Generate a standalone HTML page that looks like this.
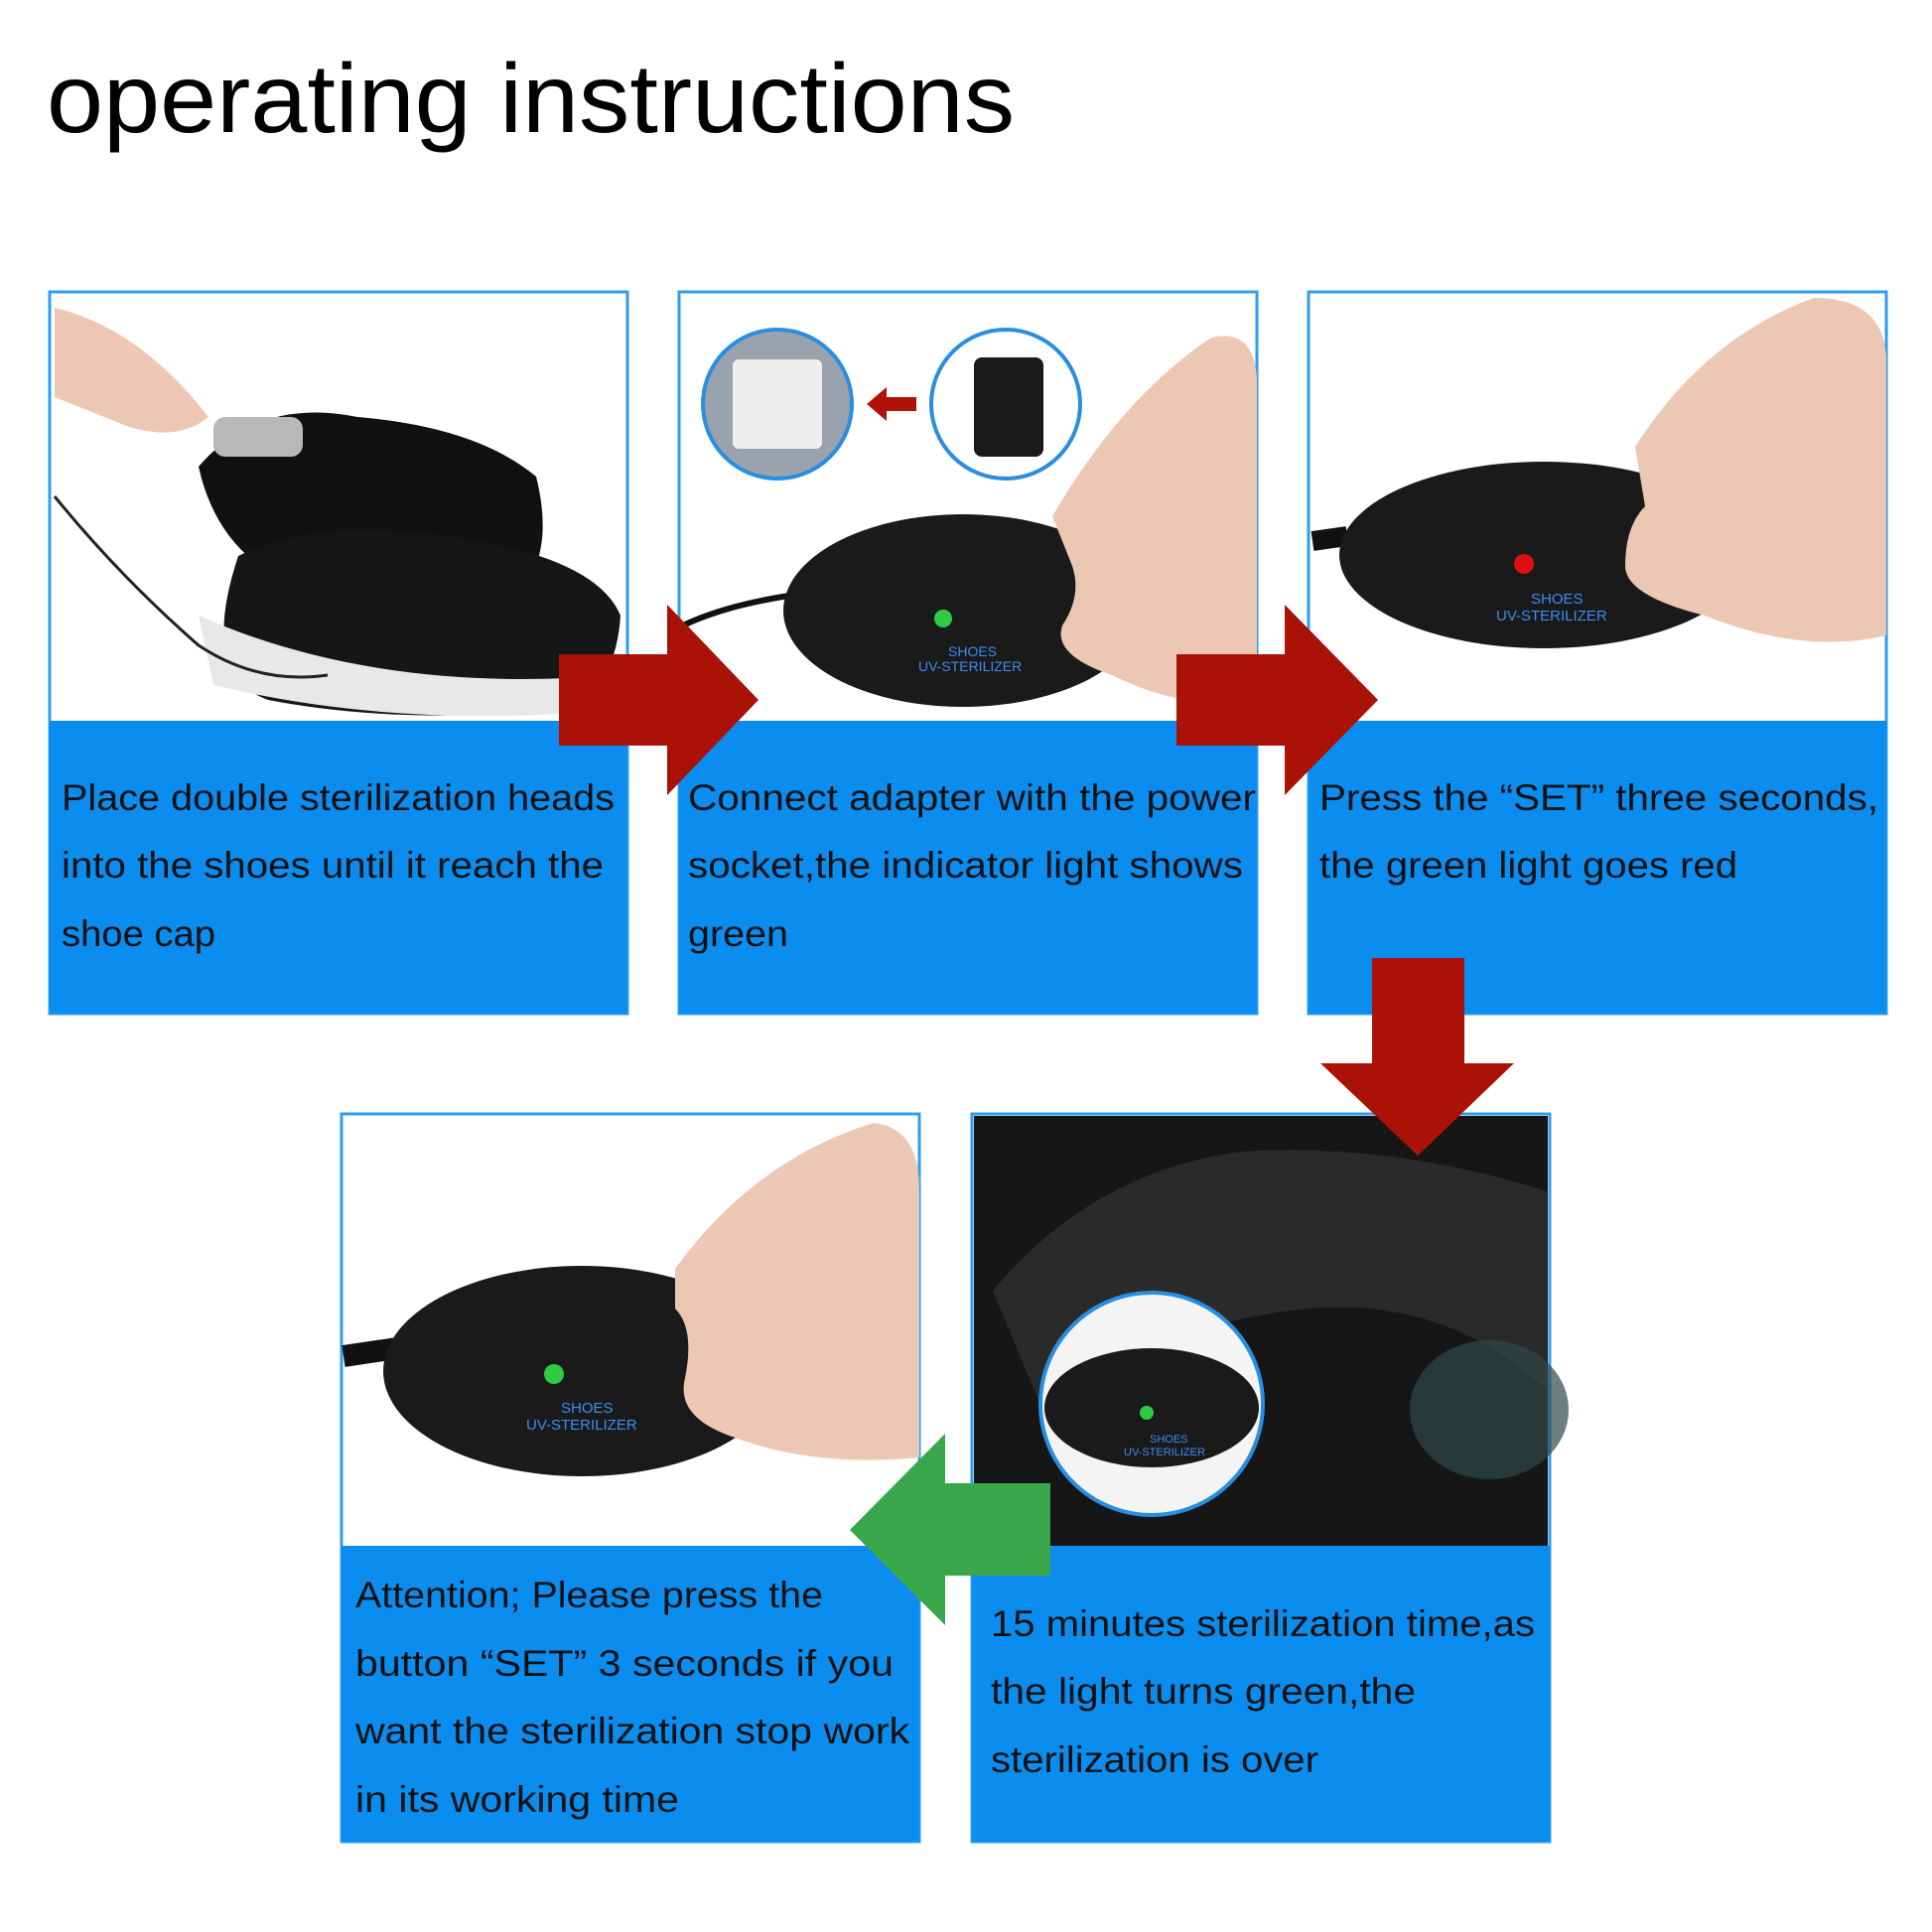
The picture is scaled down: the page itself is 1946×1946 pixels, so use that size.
<!DOCTYPE html>
<html><head><meta charset="utf-8"><style>
html,body{margin:0;padding:0;background:#fff}
svg{display:block}
text{font-family:"Liberation Sans",sans-serif}
</style></head><body>
<svg width="1946" height="1946" viewBox="0 0 1946 1946" xmlns="http://www.w3.org/2000/svg">
<rect width="1946" height="1946" fill="#fff"/>
<text x="47" y="133" font-size="98" fill="#000" textLength="975" lengthAdjust="spacingAndGlyphs">operating instructions</text>

<!-- Panel 1 -->
<rect x="50" y="294" width="582" height="727" fill="#fff" stroke="#2f9cf0" stroke-width="3"/>
<path d="M200 470 Q260 400 360 420 Q480 430 540 480 Q560 560 520 600 Q420 620 300 590 Q220 560 200 470Z" fill="#111"/>
<path d="M240 560 Q320 520 450 540 Q600 560 625 620 Q620 700 560 715 Q400 730 270 705 Q200 680 240 560Z" fill="#161616"/>
<path d="M200 620 Q380 700 620 680 L620 715 Q400 735 215 690Z" fill="#e8e8e8"/>
<path d="M55 310 Q140 330 210 420 Q180 445 130 430 Q80 410 55 400Z" fill="#ecc8b4"/>
<rect x="215" y="420" width="90" height="40" rx="12" fill="#b8b8b8"/>
<path d="M55 500 Q120 580 200 650 Q260 690 330 680" fill="none" stroke="#222" stroke-width="3"/>
<rect x="50" y="726" width="582" height="295" fill="#0b8df0"/>
<g font-size="37" fill="#111">
<text x="62" y="816" textLength="557" lengthAdjust="spacingAndGlyphs">Place double sterilization heads</text>
<text x="62" y="884" textLength="546" lengthAdjust="spacingAndGlyphs">into the shoes until it reach the</text>
<text x="62" y="953" textLength="155" lengthAdjust="spacingAndGlyphs">shoe cap</text>
</g>

<!-- Panel 2 -->
<rect x="684" y="294" width="582" height="727" fill="#fff" stroke="#2f9cf0" stroke-width="3"/>
<circle cx="783" cy="407" r="75" fill="#9aa3ad" stroke="#2a8ee0" stroke-width="4"/>
<rect x="738" y="362" width="90" height="90" rx="6" fill="#eee"/>
<circle cx="1013" cy="407" r="75" fill="#fff" stroke="#2a8ee0" stroke-width="4"/>
<rect x="981" y="360" width="70" height="100" rx="8" fill="#1a1a1a"/>
<path d="M873 407 L893 390 L893 400 L923 400 L923 414 L893 414 L893 424Z" fill="#b3120b"/>
<path d="M688 630 Q730 610 795 600" fill="none" stroke="#111" stroke-width="6"/>
<ellipse cx="970" cy="615" rx="181" ry="97" fill="#1a1a1a"/>
<circle cx="950" cy="623" r="9" fill="#2ecc40"/>
<text x="955" y="661" font-size="14" fill="#3b8ef0">SHOES</text>
<text x="925" y="676" font-size="14" fill="#3b8ef0">UV-STERILIZER</text>
<path d="M1060 520 Q1130 400 1220 340 Q1262 330 1266 380 L1266 700 Q1200 720 1120 680 Q1060 660 1070 630 Q1090 600 1080 570Z" fill="#ecc8b4"/>
<rect x="684" y="726" width="582" height="295" fill="#0b8df0"/>
<g font-size="37" fill="#111">
<text x="693" y="816" textLength="572" lengthAdjust="spacingAndGlyphs">Connect adapter with the power</text>
<text x="693" y="884" textLength="559" lengthAdjust="spacingAndGlyphs">socket,the indicator light shows</text>
<text x="693" y="953" textLength="101" lengthAdjust="spacingAndGlyphs">green</text>
</g>

<!-- Panel 3 -->
<rect x="1318" y="294" width="582" height="727" fill="#fff" stroke="#2f9cf0" stroke-width="3"/>
<path d="M1322 545 L1357 540" stroke="#111" stroke-width="20"/>
<ellipse cx="1555" cy="559" rx="206" ry="94" fill="#1a1a1a"/>
<circle cx="1535" cy="568" r="10" fill="#e01010"/>
<text x="1542" y="608" font-size="15" fill="#3b8ef0">SHOES</text>
<text x="1507" y="625" font-size="15" fill="#3b8ef0">UV-STERILIZER</text>
<path d="M1647 450 Q1717 340 1827 300 Q1897 300 1900 360 L1900 640 Q1817 660 1717 620 Q1637 600 1637 570 Q1637 530 1657 510Z" fill="#ecc8b4"/>
<rect x="1318" y="726" width="582" height="295" fill="#0b8df0"/>
<g font-size="37" fill="#111">
<text x="1329" y="816" textLength="563" lengthAdjust="spacingAndGlyphs">Press the “SET” three seconds,</text>
<text x="1329" y="884" textLength="421" lengthAdjust="spacingAndGlyphs">the green light goes red</text>
</g>

<!-- Panel 4 -->
<rect x="344" y="1122" width="582" height="733" fill="#fff" stroke="#2f9cf0" stroke-width="3"/>
<path d="M346 1366 L400 1358" stroke="#111" stroke-width="22"/>
<ellipse cx="586" cy="1381" rx="200" ry="106" fill="#1a1a1a"/>
<circle cx="558" cy="1384" r="10" fill="#2ecc40"/>
<text x="565" y="1423" font-size="15" fill="#3b8ef0">SHOES</text>
<text x="530" y="1440" font-size="15" fill="#3b8ef0">UV-STERILIZER</text>
<path d="M680 1278 Q760 1168 880 1131 Q926 1136 926 1198 L926 1468 Q820 1478 740 1448 Q680 1428 690 1388 Q700 1338 680 1318Z" fill="#ecc8b4"/>
<rect x="344" y="1557" width="582" height="298" fill="#0b8df0"/>
<g font-size="37" fill="#111">
<text x="358" y="1619" textLength="471" lengthAdjust="spacingAndGlyphs">Attention; Please press the</text>
<text x="358" y="1688" textLength="542" lengthAdjust="spacingAndGlyphs">button “SET” 3 seconds if you</text>
<text x="358" y="1756" textLength="558" lengthAdjust="spacingAndGlyphs">want the sterilization stop work</text>
<text x="358" y="1825" textLength="326" lengthAdjust="spacingAndGlyphs">in its working time</text>
</g>

<!-- Panel 5 -->
<rect x="979" y="1122" width="582" height="733" fill="#fff" stroke="#2f9cf0" stroke-width="3"/>
<rect x="981" y="1124" width="578" height="434" fill="#161616"/>
<path d="M1000 1300 Q1100 1180 1250 1160 Q1400 1150 1558 1200 L1558 1400 Q1450 1300 1300 1320 Q1150 1340 1050 1420Z" fill="#2a2a2a"/>
<ellipse cx="1500" cy="1420" rx="80" ry="70" fill="#2f4a48" opacity="0.7"/>
<circle cx="1160" cy="1414" r="112" fill="#f4f4f4" stroke="#2a8ee0" stroke-width="4"/>
<ellipse cx="1160" cy="1418" rx="108" ry="60" fill="#1a1a1a"/>
<circle cx="1155" cy="1423" r="7" fill="#2ecc40"/>
<text x="1158" y="1453" font-size="11" fill="#3b8ef0">SHOES</text>
<text x="1132" y="1466" font-size="11" fill="#3b8ef0">UV-STERILIZER</text>
<rect x="979" y="1557" width="582" height="298" fill="#0b8df0"/>
<g font-size="37" fill="#111">
<text x="998" y="1648" textLength="548" lengthAdjust="spacingAndGlyphs">15 minutes sterilization time,as</text>
<text x="998" y="1716" textLength="428" lengthAdjust="spacingAndGlyphs">the light turns green,the</text>
<text x="998" y="1785" textLength="330" lengthAdjust="spacingAndGlyphs">sterilization is over</text>
</g>

<!-- Arrows -->
<path d="M563 659 L672 659 L672 609 L764 705 L672 801 L672 751 L563 751Z" fill="#aa1208"/>
<path d="M1185 659 L1294 659 L1294 609 L1388 705 L1294 801 L1294 751 L1185 751Z" fill="#aa1208"/>
<path d="M1382 965 L1475 965 L1475 1071 L1525 1071 L1428 1164 L1330 1071 L1382 1071Z" fill="#aa1208"/>
<path d="M1058 1494 L952 1494 L952 1444 L856 1541 L952 1637 L952 1587 L1058 1587Z" fill="#3aa64a"/>
</svg>
</body></html>
